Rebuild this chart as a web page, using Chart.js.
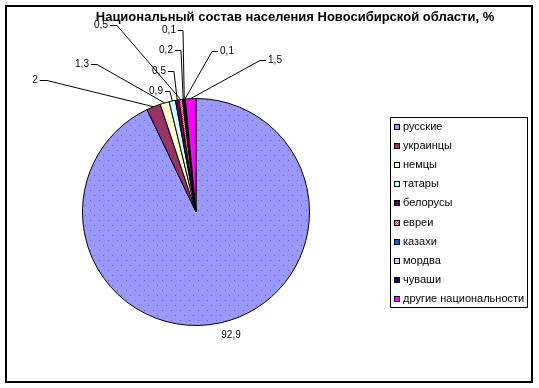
<!DOCTYPE html>
<html lang="ru">
<head>
<meta charset="utf-8">
<title>Национальный состав населения Новосибирской области</title>
<script src="https://cdn.jsdelivr.net/npm/chart.js@4"></script>
<style>
  body { margin: 0; background: #fff; }
  canvas { display: block; }
</style>
</head>
<body>
<canvas id="pieChart" width="539" height="388"></canvas>
<script>
// --- DATA ---
const nationalities = ['русские', 'украинцы', 'немцы', 'татары', 'белорусы', 'евреи', 'казахи', 'мордва', 'чуваши', 'другие национальности'];
const shares = [92.9, 2, 1.3, 0.9, 0.5, 0.5, 0.2, 0.1, 0.1, 1.5];
const chartTitle = 'Национальный состав населения Новосибирской области, %';

// --- COLOURS & PATTERNS ---
function makePattern(w, h, base, dot, dots) {
    const c = document.createElement('canvas');
    c.width = w; c.height = h;
    const g = c.getContext('2d');
    g.fillStyle = base; g.fillRect(0, 0, w, h);
    g.fillStyle = dot;
    dots.forEach(([x, y]) => g.fillRect(x, y, 1, 1));
    return document.getElementById('pieChart').getContext('2d').createPattern(c, 'repeat');
}
const sliceColors = [
    makePattern(9, 10, '#9999FF', '#5c5ce0', [[0, 0], [4, 5]]),
    '#993366', '#FFFFCC', '#CCFFFF', '#660066',
    makePattern(2, 2, '#FF9a9a', '#e84848', [[0, 0], [1, 1]]),
    '#0066CC', '#CCCCFF', '#000080', '#FF00FF'
];

// label placement (text centre, end of short horizontal leader), in canvas pixels
const labelSpots = [
    { x: 231, y: 335 },
    { x: 35, y: 80, hx: 47 },
    { x: 82, y: 64, hx: 97 },
    { x: 156, y: 91, hx: 170 },
    { x: 159, y: 71, hx: 174 },
    { x: 101, y: 25, hx: 117 },
    { x: 166, y: 50, hx: 181 },
    { x: 169, y: 30, hx: 183 },
    { x: 227, y: 51, hx: 212 },
    { x: 275, y: 60, hx: 260 }
];

const fmt = v => String(v).replace('.', ',');

// --- DRAWING PLUGIN: frame, title, labels, legend ---
const excelDecor = {
    id: 'excelDecor',
    beforeDraw(chart) {
        const c = chart.ctx;
        c.save();
        c.fillStyle = '#fff';
        c.fillRect(0, 0, chart.width, chart.height);
        c.restore();
    },
    afterDraw(chart) {
        const c = chart.ctx;
        const arcs = chart.getDatasetMeta(0).data;
        c.save();

        // frame
        c.strokeStyle = '#000'; c.lineWidth = 2;
        c.strokeRect(6, 6, 526, 376);

        // title
        c.fillStyle = '#000';
        c.font = 'bold 13px "Liberation Sans", Arial, sans-serif';
        c.textAlign = 'center'; c.textBaseline = 'alphabetic';
        c.fillText(chartTitle, 295, 21);

        // data labels with leader lines
        c.font = '10px "Liberation Sans", Arial, sans-serif';
        c.textBaseline = 'middle';
        c.lineWidth = 1;
        shares.forEach((v, i) => {
            const s = labelSpots[i];
            c.fillText(fmt(v), s.x, s.y);
            if (s.hx === undefined) return;
            const a = arcs[i];
            const mid = (a.startAngle + a.endAngle) / 2;
            const px = a.x + Math.cos(mid) * a.outerRadius;
            const py = a.y + Math.sin(mid) * a.outerRadius;
            const w = c.measureText(fmt(v)).width;
            const sx = s.hx > s.x ? s.x + w / 2 + 2 : s.x - w / 2 - 2;
            c.beginPath();
            c.moveTo(sx, s.y + 0.5);
            c.lineTo(s.hx, s.y + 0.5);
            c.lineTo(px, py);
            c.stroke();
        });

        // legend
        c.strokeRect(390.5, 117.5, 137, 190);
        c.textAlign = 'left';
        c.font = '11px "Liberation Sans", Arial, sans-serif';
        nationalities.forEach((name, i) => {
            const y = 127 + i * 19.1;
            c.fillStyle = sliceColors[i];
            c.fillRect(394, Math.round(y) - 3, 6, 6);
            c.strokeRect(394.5, Math.round(y) - 2.5, 5, 5);
            c.fillStyle = '#000';
            c.fillText(name, 403, y);
        });
        c.restore();
    }
};

new Chart(document.getElementById('pieChart'), {
    type: 'pie',
    data: {
        labels: nationalities,
        datasets: [{
            data: shares,
            backgroundColor: sliceColors,
            borderColor: '#000',
            borderWidth: 1
        }]
    },
    options: {
        responsive: false,
        animation: false,
        layout: { padding: { left: 82, right: 229, top: 98, bottom: 62 } },
        plugins: {
            legend: { display: false },
            title: { display: false },
            tooltip: { enabled: false }
        }
    },
    plugins: [excelDecor]
});
</script>
</body>
</html>
